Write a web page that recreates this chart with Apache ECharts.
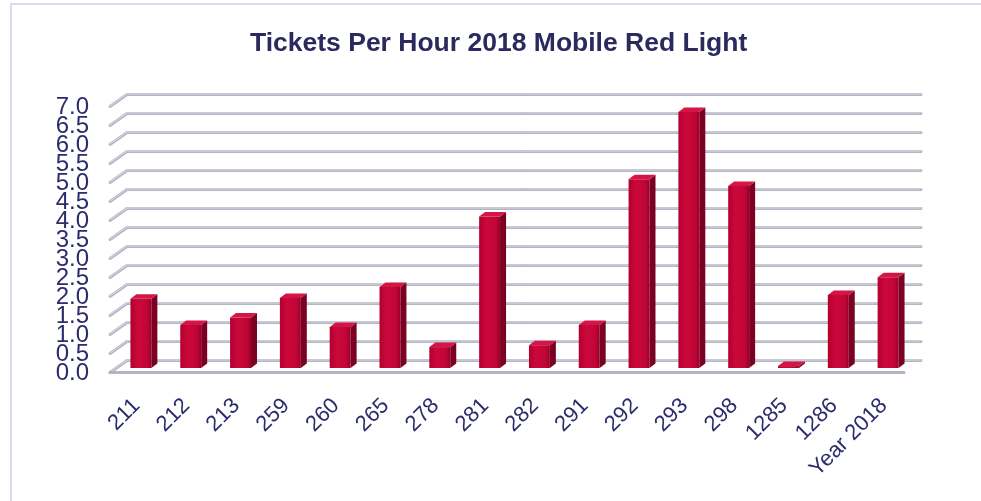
<!DOCTYPE html>
<html>
<head>
<meta charset="utf-8">
<script src="https://cdn.jsdelivr.net/npm/echarts@6/dist/echarts.min.js"></script>
<style>
html,body{margin:0;padding:0;background:#fff;}
#chart{width:981px;height:501px;}
</style>
</head>
<body>
<div id="chart"></div>
<script>
const categories = ['211','212','213','259','260','265','278','281','282','291','292','293','298','1285','1286','Year 2018'];
const ticketsPerHour = [1.82,1.13,1.33,1.84,1.08,2.13,0.55,3.99,0.60,1.13,4.97,6.74,4.79,0.05,1.92,2.39];
const yTicks = [0,0.5,1,1.5,2,2.5,3,3.5,4,4.5,5,5.5,6,6.5,7];
const yTickLabels = ['0.0','0.5','1.0','1.5','2.0','2.5','3.0','3.5','4.0','4.5','5.0','5.5','6.0','6.5','7.0'];
const chartTitle = 'Tickets Per Hour 2018 Mobile Red Light';

const NAVY = '#2c2c6c';
const FONT = 'Liberation Sans, Arial, sans-serif';
const DEPTH_X = 17, DEPTH_Y = 12;     // wall depth offset
const BAR_DX = 6, BAR_DY = -4.5;      // bar depth offset

const chart = echarts.init(document.getElementById('chart'), null, {renderer:'canvas'});

const option = {
  animation: false,
  backgroundColor: '#ffffff',
  title: {
    text: chartTitle,
    left: 245,
    top: 25,
    textStyle: {fontFamily: FONT, fontSize: 26.5, fontWeight: 'bold', color: '#2a2a5e'}
  },
  graphic: [{
    type: 'polyline',
    shape: {points: [[11, 501], [11, 4], [981, 4]]},
    style: {stroke: '#d9d9f1', lineWidth: 2, fill: null},
    silent: true
  }],
  grid: [
    {left: 127, top: 94.5, width: 794, height: 266},   // back wall
    {left: 116, top: 102, width: 797, height: 266},    // bars (mid depth)
    {left: 110, top: 106.5, width: 794, height: 266}   // front plane (labels)
  ],
  xAxis: [
    {gridIndex: 0, type: 'value', min: 0, max: 1, show: false},
    {gridIndex: 1, type: 'category', data: categories,
      axisLine: {show: false}, axisTick: {show: false},
      axisLabel: {rotate: 45, interval: 0, margin: 30, fontSize: 22, color: NAVY,
        padding: [0, 6, 0, 0], hideOverlap: false, fontFamily: FONT}},
    {gridIndex: 2, type: 'value', min: 0, max: 1, show: false}
  ],
  yAxis: [
    {gridIndex: 0, type: 'value', min: 0, max: 7, interval: 0.5, show: false},
    {gridIndex: 1, type: 'value', min: 0, max: 7, interval: 0.5, show: false},
    {gridIndex: 2, type: 'value', min: 0, max: 7, interval: 0.5, show: false}
  ],
  series: [
    {
      type: 'custom', xAxisIndex: 0, yAxisIndex: 0, z: 1, silent: true,
      data: yTicks.map(v => [v]),
      renderItem: function (params, api) {
        const v = api.value(0);
        const p0 = api.coord([0, v]);
        const p1 = api.coord([1, v]);
        const pts = [[p0[0] - DEPTH_X, p0[1] + DEPTH_Y], p0, p1];
        return {type: 'group', children: [
          {type: 'polyline', shape: {points: pts}, style: {stroke: '#b4b4c4', lineWidth: 3, fill: null, lineCap: 'round', lineJoin: 'round'}},
          {type: 'polyline', shape: {points: pts.map(p => [p[0], p[1] - 0.5])}, style: {stroke: '#dcdce6', lineWidth: 1, fill: null, lineCap: 'round'}}
        ]};
      }
    },
    {
      type: 'custom', xAxisIndex: 0, yAxisIndex: 0, z: 1, silent: true,
      data: [[0]],
      renderItem: function (params, api) {
        const p0 = api.coord([0, 0]);
        const p1 = api.coord([1, 0]);
        return {type: 'line', shape: {x1: p0[0] - DEPTH_X, y1: p0[1] + DEPTH_Y, x2: p1[0] - DEPTH_X, y2: p1[1] + DEPTH_Y},
          style: {stroke: '#b4b4c4', lineWidth: 3, lineCap: 'round'}};
      }
    },
    {
      type: 'custom', xAxisIndex: 2, yAxisIndex: 2, z: 2, silent: true,
      data: yTicks.map((v, i) => [v, i]),
      renderItem: function (params, api) {
        const v = api.value(0);
        const p = api.coord([0, v]);
        return {type: 'text', x: p[0] - 21, y: p[1] + 1,
          style: {text: yTickLabels[api.value(1)], fill: NAVY, font: '24px ' + FONT,
            align: 'right', verticalAlign: 'middle'}};
      }
    },
    {
      type: 'custom', xAxisIndex: 1, yAxisIndex: 1, z: 5, silent: true,
      data: ticketsPerHour.map((v, i) => [i, v]),
      renderItem: function (params, api) {
        const i = api.value(0), v = api.value(1);
        const top = api.coord([i, v]);
        const base = api.coord([i, 0]);
        const w = api.size([1, 0])[0] * 0.42;
        const x = top[0] - w / 2;
        const yt = top[1], yb = base[1];
        return {type: 'group', children: [
          {type: 'rect', shape: {x: x, y: yt, width: w, height: yb - yt},
            style: {fill: new echarts.graphic.LinearGradient(0, 0, 1, 0, [
              {offset: 0, color: '#b0002f'}, {offset: 0.35, color: '#cc083b'},
              {offset: 0.8, color: '#c00536'}, {offset: 1, color: '#98002a'}])}},
          {type: 'polygon', shape: {points: [[x + w, yt], [x + w + BAR_DX, yt + BAR_DY], [x + w + BAR_DX, yb + BAR_DY], [x + w, yb]]},
            style: {fill: '#7c0022'}},
          {type: 'polygon', shape: {points: [[x, yt], [x + BAR_DX, yt + BAR_DY], [x + w + BAR_DX, yt + BAR_DY], [x + w, yt]]},
            style: {fill: '#d41545'}}
        ]};
      }
    }
  ]
};
chart.setOption(option);
</script>
</body>
</html>
